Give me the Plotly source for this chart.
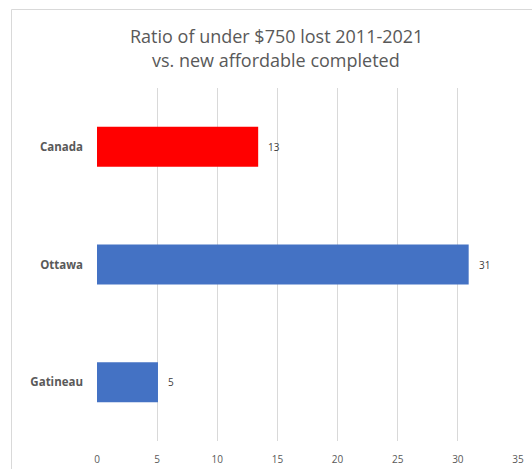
import plotly.graph_objects as go

categories = ["Canada", "Ottawa", "Gatineau"]
values = [13.4, 30.9, 5.07]
labels = ["13", "31", "5"]
colors = ["#FF0000", "#4472C4", "#4472C4"]
x_ticks = [0, 5, 10, 15, 20, 25, 30, 35]
title_lines = ["Ratio of under $750 lost 2011-2021", "vs. new affordable completed"]

W, H = 532, 469
ml, mr, mt, mb = 97, 14, 88, 28
pw, ph = W - ml - mr, H - mt - mb


def px_x(px):
    return (px - ml) / pw


def px_y(py):
    return (H - mb - py) / ph


fig = go.Figure()
fig.add_trace(go.Bar(
    y=categories, x=values, orientation="h",
    marker=dict(color=colors, line=dict(width=0)),
    width=0.34,
    hoverinfo="skip",
))

for c, v, t in zip(categories, values, labels):
    fig.add_annotation(x=v, y=c, text=t, showarrow=False, xanchor="left",
                       xshift=8, font=dict(size=10, color="#404040"))

for i, line in enumerate(title_lines):
    fig.add_annotation(xref="paper", yref="paper", x=px_x(276), y=px_y(36 + 24 * i),
                       text=line, showarrow=False, xanchor="center", yanchor="middle",
                       font=dict(size=18, color="#595959"))

# outer border (chart area frame)
fig.add_shape(type="rect", xref="paper", yref="paper",
              x0=px_x(11.5), x1=px_x(W + 5),
              y0=px_y(H + 5), y1=px_y(9.5),
              line=dict(color="#d9d9d9", width=1), fillcolor="rgba(0,0,0,0)",
              layer="above")

fig.update_layout(
    width=W, height=H,
    margin=dict(l=ml, r=mr, t=mt, b=mb),
    paper_bgcolor="white", plot_bgcolor="white",
    font=dict(family="Open Sans, Liberation Sans, sans-serif", color="#595959"),
    showlegend=False,
    bargap=0.66,
)
fig.update_xaxes(range=[0, 35], tickvals=x_ticks, showgrid=True, gridcolor="#d9d9d9",
                 gridwidth=1, zeroline=False, showline=False, ticks="",
                 tickfont=dict(size=10, color="#595959"), ticklabelstandoff=11,
                 automargin=False, fixedrange=True)
fig.update_yaxes(categoryorder="array", categoryarray=categories[::-1],
                 showgrid=False, zeroline=False, showline=False, ticks="",
                 tickfont=dict(size=11.5, color="#595959",
                               family="Open Sans, sans-serif", weight="bold"),
                 ticklabelstandoff=13, automargin=False, fixedrange=True)

fig.write_html("out.html")
